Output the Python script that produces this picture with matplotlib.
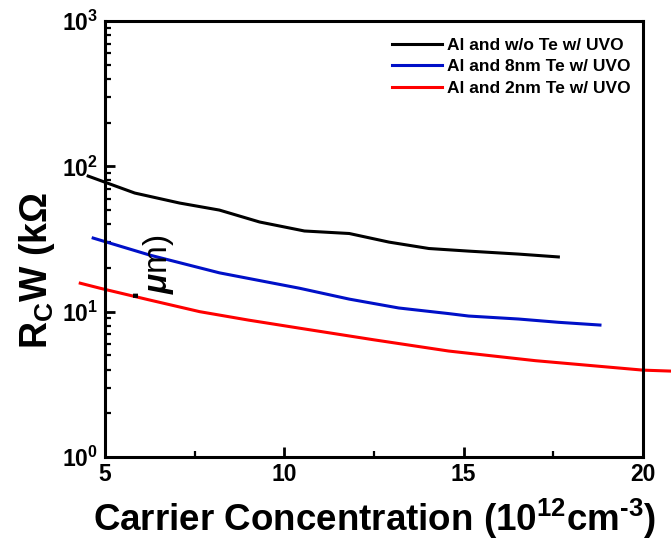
import matplotlib
matplotlib.use("Agg")
import matplotlib.pyplot as plt
from matplotlib.ticker import FixedLocator, NullFormatter

plt.rcParams['font.family'] = ['Liberation Sans', 'DejaVu Sans']
plt.rcParams['font.weight'] = 'bold'
plt.rcParams['mathtext.fontset'] = 'custom'
plt.rcParams['mathtext.rm'] = 'Liberation Sans:bold'
plt.rcParams['mathtext.bf'] = 'Liberation Sans:bold'
plt.rcParams['mathtext.it'] = 'Liberation Sans:italic'

# Contact resistance vs carrier concentration
x_no_te = [4.53, 5.83, 7.08, 8.19, 9.31, 10.56, 11.81, 12.92, 14.03, 15.14, 16.53, 17.64]
rc_no_te = [85.7, 65.5, 55.9, 50.0, 41.4, 35.9, 34.5, 30.1, 27.2, 26.1, 24.9, 23.8]

x_8nm = [4.67, 6.25, 8.19, 10.42, 11.81, 13.19, 14.58, 15.14, 16.53, 17.64, 18.8]
rc_8nm = [32.1, 24.5, 18.5, 14.5, 12.2, 10.6, 9.7, 9.33, 8.9, 8.45, 8.09]

x_2nm = [4.31, 4.86, 6.2, 7.64, 9.0, 10.42, 12.5, 14.58, 17.0, 20.0, 20.78]
rc_2nm = [15.7, 14.5, 12.1, 10.0, 8.75, 7.7, 6.4, 5.36, 4.6, 3.96, 3.9]

labels = ["Al and w/o Te w/ UVO", "Al and 8nm Te w/ UVO", "Al and 2nm Te w/ UVO"]
colors = ["#000000", "#0010c8", "#ff0000"]

x_ticks = [5, 10, 15, 20]
y_ticks = [1, 10, 100, 1000]
y_ticklabels = [r"$\mathbf{10^{0}}$", r"$\mathbf{10^{1}}$", r"$\mathbf{10^{2}}$", r"$\mathbf{10^{3}}$"]

fig = plt.figure(figsize=(6.71, 5.41), dpi=100)
ax = fig.add_axes([105/671, 1 - 457/541, (643 - 105)/671, (457 - 21)/541])

for xs, ys, lab, col in zip([x_no_te, x_8nm, x_2nm], [rc_no_te, rc_8nm, rc_2nm], labels, colors):
    ax.plot(xs, ys, color=col, lw=2.2, label=lab, clip_on=False)

ax.set_yscale('log')
ax.set_xlim(5, 20)
ax.set_ylim(1, 1000)

ax.xaxis.set_major_locator(FixedLocator(x_ticks))
ax.xaxis.set_minor_locator(FixedLocator([7.5, 12.5, 17.5]))
ax.set_xticklabels([str(t) for t in x_ticks])
ax.yaxis.set_major_locator(FixedLocator(y_ticks))
minors = [m * 10**d for d in range(0, 3) for m in range(2, 10)]
ax.yaxis.set_minor_locator(FixedLocator(minors))
ax.yaxis.set_minor_formatter(NullFormatter())
ax.set_yticklabels(y_ticklabels)

ax.tick_params(which='major', direction='in', length=7, width=2, labelsize=16.5)
ax.tick_params(axis='x', which='major', pad=4)
ax.tick_params(axis='y', which='major', pad=5)
ax.tick_params(which='minor', direction='in', length=4, width=1.6)
for lbl in ax.get_xticklabels() + ax.get_yticklabels():
    lbl.set_fontweight('bold')
for sp in ax.spines.values():
    sp.set_linewidth(2.2)

ax.set_xlabel(r"Carrier Concentration (10$^{12}$cm$^{\text{-3}}$)", fontsize=26.5,
              fontweight='bold', labelpad=8)

fig.text(37/671, 1 - 270/541, "R$_{\\mathrm{C}}$W (k\u03a9",
         rotation=90, ha='center', va='center', fontsize=27, fontweight='bold')
fig.text(158/671, 1 - 264/541, r"$\mu$m)", rotation=90, ha='center', va='center',
         fontsize=24, fontweight='normal')
fig.text(137/671, 1 - 292/541, "\u00b7", rotation=90, ha='center', va='center',
         fontsize=22, fontweight='bold')

leg = ax.legend(loc='upper right', frameon=False, fontsize=12.5, handlelength=2.9,
                handletextpad=0.3, labelspacing=0.38, borderaxespad=0.3,
                bbox_to_anchor=(1.0, 0.99))
for t in leg.get_texts():
    t.set_fontweight('bold')

fig.savefig("out.png", dpi=100)
